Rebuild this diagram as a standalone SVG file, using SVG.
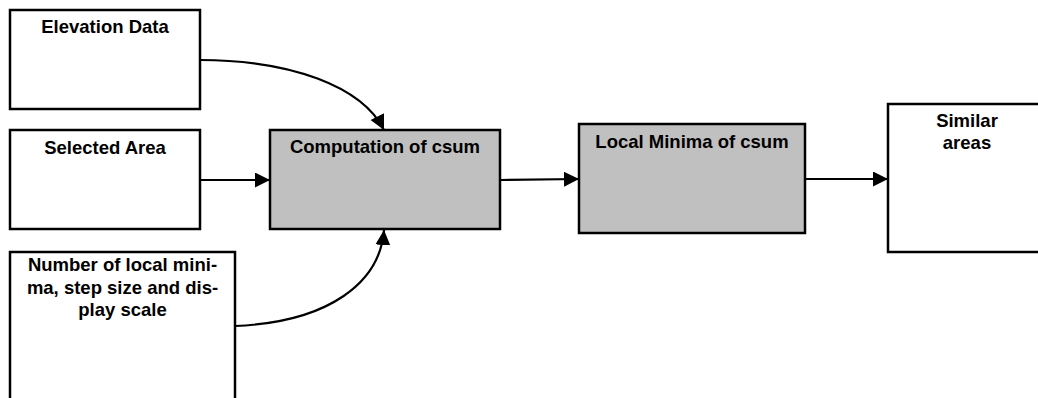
<svg xmlns="http://www.w3.org/2000/svg" width="1038" height="398" viewBox="0 0 1038 398">
<style>
.box{fill:#ffffff;stroke:#000;stroke-width:2.5}
.proc{fill:#c0c0c0;stroke:#000;stroke-width:2.5}
.lbl{font-family:"Liberation Sans",Arial,sans-serif;font-weight:bold;font-size:18.5px;fill:#000;text-anchor:middle}
.conn{fill:none;stroke:#000;stroke-width:2.2;marker-end:url(#arr)}
</style>
<defs>
<marker id="arr" markerUnits="userSpaceOnUse" markerWidth="16" markerHeight="16" refX="15" refY="7.5" orient="auto" viewBox="0 0 16 16">
<path d="M0,0 L15,7.5 L0,15 z" fill="#000"/>
</marker>
</defs>
<g id="elevation">
<rect class="box" x="10" y="10" width="190" height="99"/>
<text class="lbl" x="105" y="33">Elevation Data</text>
</g>
<g id="selected">
<rect class="box" x="10" y="130" width="190" height="99"/>
<text class="lbl" x="105" y="154">Selected Area</text>
</g>
<g id="params">
<rect class="box" x="10" y="252" width="225" height="170"/>
<text class="lbl" x="122.5" y="271">Number of local mini-</text>
<text class="lbl" x="122.5" y="293.5">ma, step size and dis-</text>
<text class="lbl" x="122.5" y="316">play scale</text>
</g>
<g id="computation">
<rect class="proc" x="270" y="130" width="230" height="99"/>
<text class="lbl" x="385" y="153">Computation of csum</text>
</g>
<g id="localminima">
<rect class="proc" x="579" y="124" width="226" height="109"/>
<text class="lbl" x="692" y="148">Local Minima of csum</text>
</g>
<g id="similar">
<rect class="box" x="888" y="104" width="160" height="148"/>
<text class="lbl" x="967" y="127">Similar</text>
<text class="lbl" x="967" y="149">areas</text>
</g>
<g id="connectors">
<path class="conn" d="M200,60 C290,60 362,86 384,130"/>
<path class="conn" d="M200,180 L270,180"/>
<path class="conn" d="M235,326 C330,322 380,282 384,230"/>
<path class="conn" d="M500,180 L579,179"/>
<path class="conn" d="M805,179 L888,179"/>
</g>
</svg>
